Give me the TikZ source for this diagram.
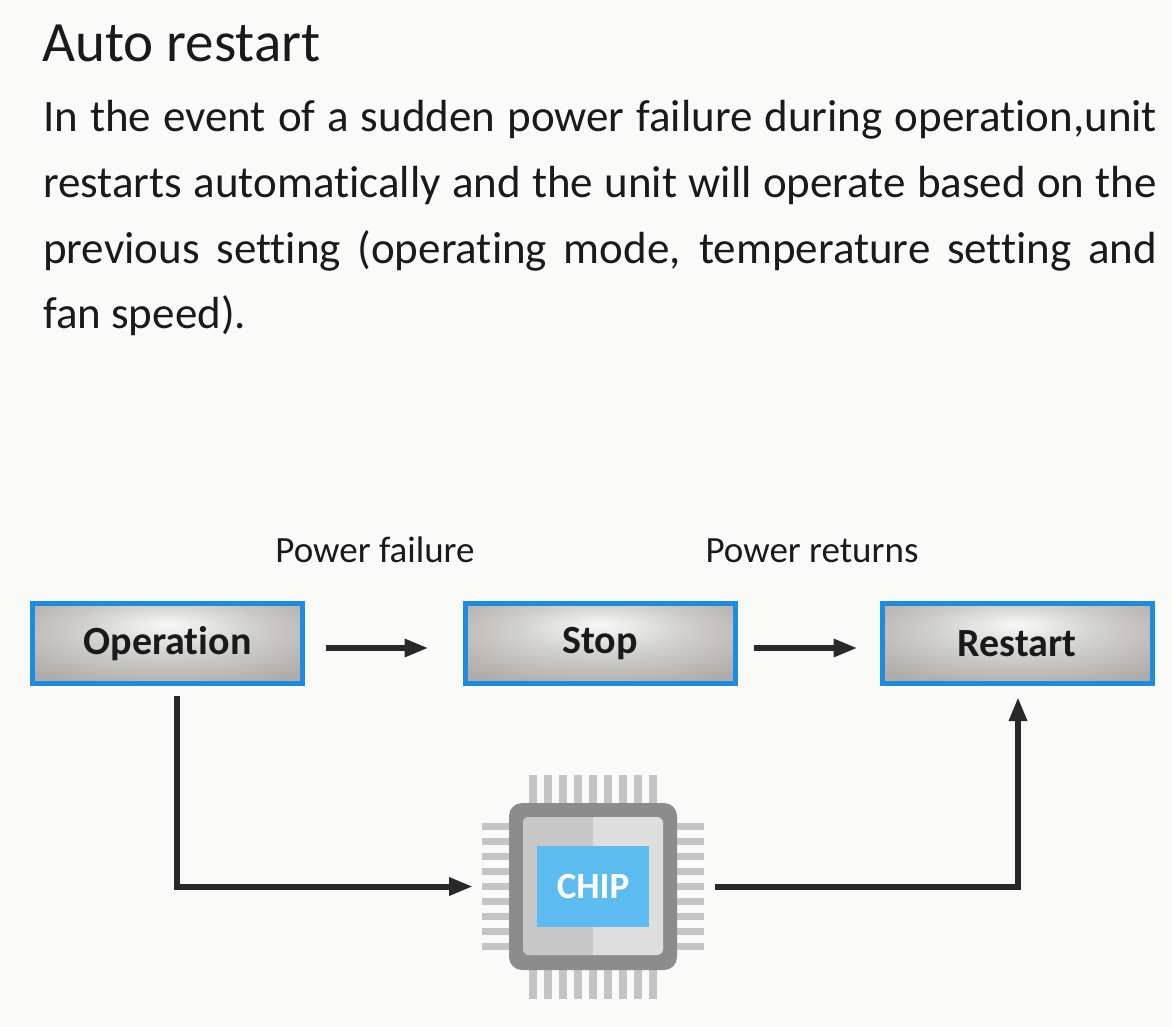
\documentclass[tikz,border=0pt]{standalone}
\usepackage{fontspec}
\setmainfont{Carlito}[Ligatures=NoCommon]
\usetikzlibrary{arrows.meta}
\definecolor{bg}{RGB}{250,250,248}
\definecolor{ink}{RGB}{26,26,26}
\definecolor{boxblue}{RGB}{30,140,220}
\definecolor{boxedge}{RGB}{174,172,168}
\definecolor{boxmid}{RGB}{208,207,204}
\definecolor{boxlight}{RGB}{248,248,246}
\definecolor{arrowc}{RGB}{40,40,40}
\definecolor{pin}{RGB}{196,196,196}
\definecolor{chipbody}{RGB}{140,140,140}
\definecolor{chipleft}{RGB}{200,200,200}
\definecolor{chipright}{RGB}{222,222,222}
\definecolor{chipblue}{RGB}{92,188,240}
\pgfdeclareradialshading{boxshade}{\pgfpoint{0bp}{12bp}}{color(0bp)=(boxlight); color(16bp)=(boxmid); color(34bp)=(boxedge); color(60bp)=(boxedge)}
\tikzset{
  statebox/.style={draw=boxblue, line width=5pt, shading=boxshade, minimum width=270pt, minimum height=80pt, inner sep=0pt, text=ink, font=\fontsize{40}{44}\selectfont\bfseries},
  arr/.style={draw=arrowc, line width=6pt, -{Triangle[length=24pt,width=17pt]}},
  bodyline/.style={anchor=base west, inner sep=0pt, text=ink, font=\fontsize{45}{50}\selectfont},
  lbl/.style={anchor=base, inner sep=0pt, text=ink, font=\fontsize{37}{40}\selectfont},
  pinrect/.style={fill=pin}
}
\begin{document}
\begin{tikzpicture}[x=1pt,y=-1pt]
\fill[bg] (0,0) rectangle (1172,1027);
\useasboundingbox (0,0) rectangle (1172,1027);

% heading and text
\node[anchor=base west, inner sep=0pt, text=ink, font=\fontsize{57}{62}\selectfont] (title) at (42,62) {Auto restart};
\node[bodyline] (l1) at (43,132) {\makebox[1114pt][s]{In the event of a sudden power failure during operation,unit}};
\node[bodyline] (l2) at (43,197.5) {\makebox[1114pt][s]{restarts automatically and the unit will operate based on the}};
\node[bodyline] (l3) at (43,263) {\makebox[1114pt][s]{previous setting (operating mode, temperature setting and}};
\node[bodyline] (l4) at (43,328) {fan speed).};

% labels
\node[lbl] (pf) at (375,562) {Power failure};
\node[lbl] (pr) at (812,562) {Power returns};

% state boxes
\node[statebox] (op) at (167.5,643.5) {Operation};
\node[statebox] (stop) at (600,643.5) {Stop};
\node[statebox] (restart) at (1017,643.5) {Restart};

% chip
\coordinate (cc) at (593,886.5);
\begin{scope}[shift={(cc)}]
  \foreach \i in {0,...,8} {
    \fill[pinrect] ({-64+15*\i},-112) rectangle ({-56+15*\i},-80);
    \fill[pinrect] ({-64+15*\i},80) rectangle ({-56+15*\i},112);
    \fill[pinrect] (-111,{-64+15*\i}) rectangle (-80,{-57+15*\i});
    \fill[pinrect] (80,{-64+15*\i}) rectangle (111,{-57+15*\i});
  }
\end{scope}
\node[fill=chipbody, rounded corners=13pt, minimum width=168pt, minimum height=167pt, inner sep=0pt, outer sep=0pt] (chip) at (cc) {};
\begin{scope}[shift={(cc)}]
  \fill[chipright, rounded corners=6pt] (-70,-69.5) rectangle (70,68.5);
  \begin{scope}
    \clip[rounded corners=6pt] (-70,-69.5) rectangle (70,68.5);
    \fill[chipleft] (-70,-69.5) rectangle (0,68.5);
  \end{scope}
\end{scope}
\node[fill=chipblue, minimum width=112pt, minimum height=81pt, inner sep=0pt, text=white, font=\fontsize{37}{40}\selectfont\bfseries] (chiplabel) at (cc) {CHIP};

% connectors
\draw[arr, shorten <=21pt, shorten >=34pt] ([yshift=-4.5pt]op.east) -- ([yshift=-4.5pt]stop.west);
\draw[arr, shorten <=16pt, shorten >=22pt] ([yshift=-4.5pt]stop.east) -- ([yshift=-4.5pt]restart.west);
\draw[arr, shorten >=36pt] ([xshift=9.5pt,yshift=-10pt]op.south) |- (chip.west);
\draw[arr, shorten <=38pt, shorten >=11pt] (chip.east) -| ([xshift=1pt]restart.south);
\end{tikzpicture}
\end{document}
